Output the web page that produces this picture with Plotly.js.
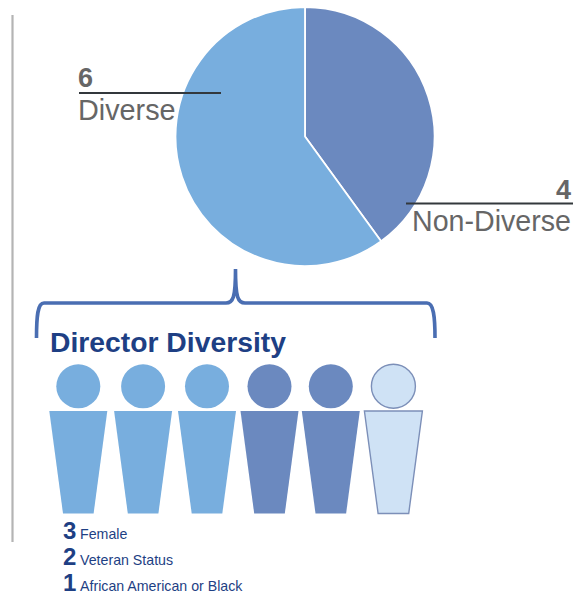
<!DOCTYPE html>
<html>
<head>
<meta charset="utf-8">
<script src="https://cdn.plot.ly/plotly-3.0.1.min.js"></script>
<style>html,body{margin:0;padding:0;background:#fff}#chart{width:573px;height:597px}</style>
</head>
<body>
<div id="chart"></div>
<script>
// Data
const sliceLabels = ['Non-Diverse', 'Diverse'];
const sliceValues = [4, 6];
const chartTitle = 'Director Diversity';
const detailCounts = [3, 2, 1];
const detailLabels = ['Female', 'Veteran Status', 'African American or Black'];

// Styles
const W = 573, H = 597;
const LIGHT = '#78AEDE', DARK = '#6B89BF', PALE = '#CFE2F5', PALE_EDGE = '#7C8FB8';
const NAVY = '#1E3F84', GREY = '#666666', BRACKET = '#4A6EB2', LEADER = '#33383C';
const FONT = 'Liberation Sans, Arial, sans-serif';

// Layout of the people row (pixel-scale axis coordinates)
const personX = [78.3, 143.1, 207, 269.5, 330.8, 393.4];
const personFills = [LIGHT, LIGHT, LIGHT, DARK, DARK, PALE];
const personEdges = [null, null, null, null, null, PALE_EDGE];
const headY = 386.3, headR = 22, bodyTop = 411, bodyBottom = 513.5, bodyTopHalf = 29, bodyBottomHalf = 15.3;

const shapes = [];
const ax = {xref: 'x', yref: 'y'};
shapes.push({...ax, type: 'line', x0: 12.5, x1: 12.5, y0: 15, y1: 542, line: {color: '#B4B4B4', width: 2.2}});
shapes.push({...ax, type: 'line', x0: 79, x1: 221, y0: 93, y1: 93, line: {color: LEADER, width: 2}});
shapes.push({...ax, type: 'line', x0: 406, x1: 573, y0: 203.5, y1: 203.5, line: {color: LEADER, width: 2}});
shapes.push({...ax, type: 'path', line: {color: BRACKET, width: 3.6},
  path: 'M36.5,338 C36.5,316 37.5,303 44,303 L226,303 C233,303 235.5,298 235.5,269 C235.5,298 238,303 245,303 L427,303 C433.5,303 435,316 435,338'});

personX.forEach((x, i) => {
  const edge = personEdges[i];
  const line = edge ? {color: edge, width: 1.4} : {width: 0};
  shapes.push({...ax, type: 'circle', x0: x - headR, x1: x + headR, y0: headY - headR, y1: headY + headR,
    fillcolor: personFills[i], line});
  shapes.push({...ax, type: 'path', fillcolor: personFills[i], line,
    path: `M${x - bodyTopHalf},${bodyTop} L${x + bodyTopHalf},${bodyTop} L${x + bodyBottomHalf},${bodyBottom} L${x - bodyBottomHalf},${bodyBottom} Z`});
});

function note(text, x, y, size, color, bold, anchor) {
  return {xref: 'x', yref: 'y', x, y, text: bold ? `<b>${text}</b>` : text, showarrow: false,
    xanchor: anchor || 'left', yanchor: 'middle', borderpad: 0, borderwidth: 0,
    font: {family: FONT, size, color}};
}

const annotations = [
  note(String(sliceValues[1]), 78, 78, 27, GREY, true),
  note(sliceLabels[1], 78, 110, 28.8, GREY, false),
  note(String(sliceValues[0]), 571, 190, 27, GREY, true, 'right'),
  note(sliceLabels[0], 412, 221, 28.6, GREY, false),
  note(chartTitle, 50, 342, 28.3, NAVY, true)
];
const detailY = [530, 556.5, 582.5];
detailCounts.forEach((c, i) => {
  annotations.push(note(String(c), 62.5, detailY[i], 24, NAVY, true));
  annotations.push(note(detailLabels[i], 79.5, detailY[i] + 3.5, 14.2, NAVY, false));
});

const pie = {
  type: 'pie', labels: sliceLabels, values: sliceValues, sort: false, direction: 'clockwise', rotation: 0,
  textinfo: 'none', hoverinfo: 'label+value',
  marker: {colors: [DARK, LIGHT], line: {color: '#FFFFFF', width: 1.8}},
  domain: {x: [175.5 / W, 434.5 / W], y: [1 - 266.5 / H, 1 - 6.5 / H]}
};

const hidden = {visible: false, showgrid: false, zeroline: false, fixedrange: true};
const layout = {
  width: W, height: H, margin: {l: 0, r: 0, t: 0, b: 0},
  paper_bgcolor: '#fff', plot_bgcolor: 'rgba(0,0,0,0)', showlegend: false,
  xaxis: {...hidden, range: [0, W]},
  yaxis: {...hidden, range: [H, 0]},
  shapes, annotations
};
Plotly.newPlot('chart', [pie], layout, {displayModeBar: false, responsive: false});
</script>
</body>
</html>
